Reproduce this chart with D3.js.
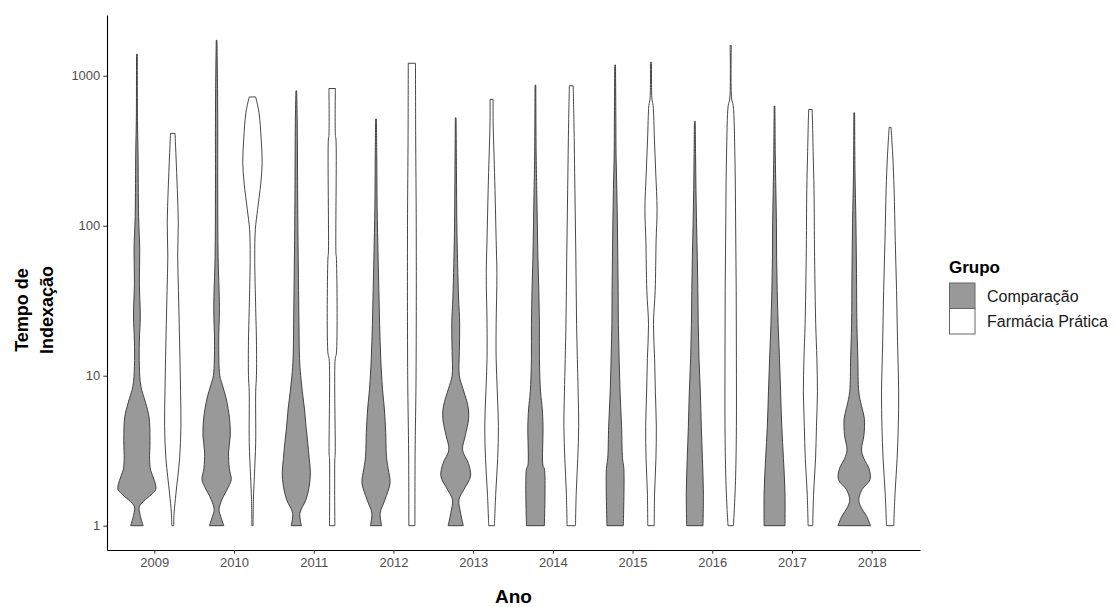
<!DOCTYPE html>
<html>
<head>
<meta charset="utf-8">
<script src="https://cdn.jsdelivr.net/npm/d3@7"></script>
<style>
  html, body { margin: 0; padding: 0; background: #fff; }
  svg { display: block; font-family: "Liberation Sans", Arial, sans-serif; }
</style>
</head>
<body>
<svg id="chart" width="1115" height="607"></svg>
<script>
// Years on the x axis and the two groups dodged within each year
const years = ["2009", "2010", "2011", "2012", "2013", "2014", "2015", "2016", "2017", "2018"];
const groups = ["Comparação", "Farmácia Prática"];
const yTicks = [1, 10, 100, 1000];

// Violin profiles: [indexing time, relative density (0-100)], one profile per year
const comparacaoProfiles = [
  [[1,33],[1.17,18],[1.34,13],[1.64,82],[1.75,100],[2.0,92],[2.35,72],[2.75,67],[3.7,69],[5.3,64],[6.6,46],[8.5,21],[11.5,13],[17,13],[25,18],[41,13],[69,15],[115,9],[316,6],[500,3],[1390,2]],
  [[1,38],[1.15,22],[1.28,13],[1.49,28],[1.83,64],[2.03,77],[2.4,67],[3.1,63],[4.0,72],[5.2,68],[7.0,51],[8.7,30],[10,17],[17,11],[28,15],[62,8],[174,6],[490,6],[820,5],[1722,2]],
  [[1,27],[1.21,19],[1.49,51],[1.83,68],[2.25,74],[2.8,68],[3.6,60],[4.6,51],[6.0,43],[7.8,32],[10,23],[13,17],[22,14],[37,12],[80,9],[174,7],[490,5],[793,2]],
  [[1,30],[1.21,22],[1.49,47],[1.93,74],[2.4,64],[2.9,55],[4.2,51],[6.0,44],[8.2,34],[13,25],[22,19],[37,15],[62,11],[134,6],[292,4],[515,2]],
  [[1,40],[1.21,26],[1.49,17],[1.74,43],[2.14,78],[2.6,67],[3.2,36],[4.0,51],[5.2,68],[6.3,64],[8.2,38],[10,19],[14.5,19],[22,21],[33,15],[56,10],[104,6],[225,4],[524,2]],
  [[1,47],[2.4,47],[2.5,40],[4.6,40],[6.0,36],[7.8,27],[13,21],[22,21],[37,18],[62,13],[104,10],[174,7],[292,4],[865,2]],
  [[1,43],[2.4,46],[2.8,39],[4.6,34],[7.8,26],[13,21],[22,17],[37,16],[62,14],[104,12],[174,9],[292,5],[490,4],[1180,2]],
  [[1,43],[1.65,45],[2.8,40],[4.6,34],[7.8,29],[13,22],[22,18],[37,16],[62,13],[104,9],[174,6],[292,4],[497,2]],
  [[1,55],[1.65,55],[2.8,47],[4.6,38],[7.8,32],[13,26],[22,19],[37,14],[62,11],[104,10],[174,7],[292,4],[628,2]],
  [[1,86],[1.15,66],[1.34,34],[1.49,24],[1.74,41],[2.03,83],[2.4,78],[2.8,51],[3.2,38],[4.0,51],[5.2,53],[6.3,38],[7.8,24],[13,19],[22,14],[48,12],[104,9],[225,4],[566,2]]
];

const farmaciaProfiles = [
  [[1,5],[1.21,7],[1.65,17],[2.8,36],[4.6,43],[7.8,41],[13,38],[22,34],[37,30],[62,26],[104,29],[174,24],[292,17],[413,12]],
  [[1,3],[1.49,5],[2.14,10],[3.6,17],[7.8,17],[10,21],[17,21],[28,17],[62,12],[94,15],[128,27],[193,44],[263,51],[378,46],[572,34],[722,17]],
  [[1,14],[2.8,14],[3,16],[13,16],[14,22],[62,22],[65,20],[378,20],[400,17],[822,17]],
  [[1,16],[3,17],[10,22],[100,23],[400,20],[1211,19]],
  [[1,15],[1.65,22],[2.8,32],[4.6,36],[7.8,30],[13,24],[22,24],[48,28],[80,24],[174,18],[292,13],[500,8],[696,8]],
  [[1,22],[1.65,26],[2.8,34],[4.6,39],[7.8,36],[22,28],[62,24],[174,19],[490,14],[857,10]],
  [[1,17],[1.65,19],[2.8,26],[4.6,28],[7.8,23],[13,19],[22,13],[37,22],[80,27],[128,32],[225,25],[378,18],[634,11],[700,5],[1230,3]],
  [[1,14],[1.28,19],[2.14,26],[4.6,30],[13,30],[37,29],[104,26],[292,22],[634,13],[700,5],[1592,3]],
  [[1,12],[1.65,17],[2.8,27],[4.6,32],[7.8,37],[13,34],[22,28],[62,22],[174,19],[292,15],[490,11],[596,9]],
  [[1,19],[1.65,26],[2.8,37],[4.6,43],[7.8,45],[17,39],[37,34],[80,27],[174,21],[292,14],[453,5]]
];

const groupFill = { "Comparação": "#999999", "Farmácia Prática": "#ffffff" };
const profilesByGroup = { "Comparação": comparacaoProfiles, "Farmácia Prática": farmaciaProfiles };

// Layout
const panel = { left: 107, right: 920, top: 15, bottom: 550 };
const svg = d3.select("#chart");
svg.append("rect").attr("width", 1115).attr("height", 607).attr("fill", "#fff");

const x = d3.scaleBand().domain(years)
  .range([panel.left, panel.right]).paddingInner(0).paddingOuter(0.1);
const xGroup = d3.scaleBand().domain(groups)
  .range([x.bandwidth() * 0.05, x.bandwidth() * 0.95]);
const y = d3.scaleLog().domain([Math.pow(10, -0.162), Math.pow(10, 3.405)])
  .range([panel.bottom, panel.top]);
const halfWidth = d3.scaleLinear().domain([0, 100]).range([0, 19]);

// Violins
const violins = svg.append("g").attr("class", "violins");
groups.forEach(g => {
  profilesByGroup[g].forEach((profile, i) => {
    const cx = x(years[i]) + xGroup(g) + xGroup.bandwidth() / 2;
    const area = d3.area()
      .curve(d3.curveCatmullRom.alpha(0.5))
      .y(p => y(p[0]))
      .x0(p => cx - halfWidth(p[1]))
      .x1(p => cx + halfWidth(p[1]));
    violins.append("path")
      .attr("d", area(profile))
      .attr("fill", groupFill[g])
      .attr("stroke", "#333")
      .attr("stroke-width", 0.9)
      .attr("stroke-linejoin", "round");
  });
});

// Axes
const tickColor = "#333";
const labelColor = "#4d4d4d";

const yAxis = svg.append("g")
  .attr("transform", `translate(${panel.left},0)`)
  .call(d3.axisLeft(y).tickValues(yTicks).tickFormat(d3.format("d"))
    .tickSize(3.7).tickSizeOuter(0).tickPadding(3));
yAxis.select(".domain").attr("stroke", "#000").attr("stroke-width", 1.1);
yAxis.selectAll(".tick line").attr("stroke", tickColor);
yAxis.selectAll(".tick text").attr("fill", labelColor)
  .style("font-size", "13px").style("font-family", "'Liberation Sans', Arial, sans-serif");

const xAxis = svg.append("g")
  .attr("transform", `translate(0,${panel.bottom})`)
  .call(d3.axisBottom(x).tickSize(3.7).tickSizeOuter(0).tickPadding(4));
xAxis.select(".domain").attr("stroke", "#000").attr("stroke-width", 1.1);
xAxis.selectAll(".tick line").attr("stroke", tickColor);
xAxis.selectAll(".tick text").attr("fill", labelColor)
  .style("font-size", "13px").style("font-family", "'Liberation Sans', Arial, sans-serif");

// Axis titles
svg.append("text")
  .attr("x", (panel.left + panel.right) / 2).attr("y", 603)
  .attr("text-anchor", "middle")
  .style("font-size", "19px").style("font-weight", "bold")
  .text("Ano");

const yTitle = svg.append("text")
  .attr("transform", "translate(0,310) rotate(-90)")
  .attr("text-anchor", "middle")
  .style("font-size", "18px").style("font-weight", "bold");
yTitle.append("tspan").attr("x", 0).attr("y", 28).text("Tempo de");
yTitle.append("tspan").attr("x", 0).attr("y", 53).text("Indexação");

// Legend
const legend = svg.append("g").attr("transform", "translate(949,0)");
legend.append("text").attr("x", 0).attr("y", 273)
  .style("font-size", "17px").style("font-weight", "bold").text("Grupo");
const keySize = 25.5;
groups.forEach((g, i) => {
  const ky = 283 + i * keySize;
  legend.append("rect")
    .attr("x", 0.5).attr("y", ky).attr("width", keySize).attr("height", keySize)
    .attr("fill", groupFill[g]).attr("stroke", "#666").attr("stroke-width", 1);
  legend.append("text")
    .attr("x", 38).attr("y", ky + keySize / 2).attr("dy", "0.36em")
    .style("font-size", "16px").attr("fill", "#1a1a1a").text(g);
});
</script>
</body>
</html>
